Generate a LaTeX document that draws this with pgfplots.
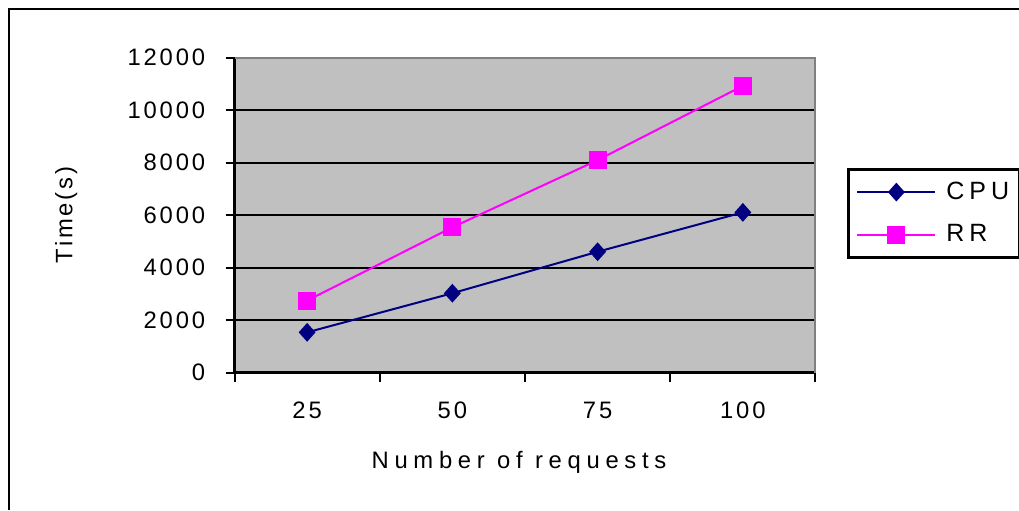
\documentclass[border=0pt]{standalone}
\usepackage{pgfplots}
\pgfplotsset{compat=1.18}
\usepackage{fontspec}
\setmainfont{Liberation Sans}[LetterSpace=12]

\definecolor{plotgray}{HTML}{C0C0C0}
\definecolor{cpublue}{HTML}{000080}
\definecolor{rrpink}{HTML}{FF00FF}

\begin{document}
\fontsize{11.9}{14}\selectfont
% picture units: 1 unit = 1 pixel of the reference (0.5pt), origin bottom left
\begin{tikzpicture}[x=0.5pt, y=0.5pt]
  \path[use as bounding box] (0,0) rectangle (1019,510);
  \draw[line width=1.25pt] (9,0) -- (9,501) -- (1019,501);

  \begin{axis}[
      at={(234.5pt*0.5,137.5pt*0.5)}, anchor=south west,
      scale only axis,
      width=290.5pt, height=157.5pt,
      axis background/.style={fill=plotgray},
      axis x line*=bottom, axis y line*=left,
      axis line style={black, line width=1.25pt},
      xmin=0, xmax=4,
      ymin=0, ymax=12000,
      xtick={0,1,2,3,4},
      xticklabels={25,50,75,100},
      x tick label as interval,
      ytick={0,2000,4000,6000,8000,10000,12000},
      scaled y ticks=false,
      /pgf/number format/1000 sep={},
      /pgf/number format/assume math mode=true,
      tick align=outside,
      major tick length=4.5pt,
      tick style={black, line width=1pt},
      ymajorgrids,
      major grid style={black, line width=1pt},
      yticklabel style={xshift=-6pt},
      xticklabel style={yshift=-6pt},
      xlabel={\addfontfeature{LetterSpace=24}Number of requests},
      ylabel={Time(s)},
      xlabel style={yshift=-8pt, xshift=-3pt},
      ylabel style={yshift=17pt},
      legend style={
          at={(1.054,0.649)}, anchor=north west,
          draw=black, line width=1.5pt, fill=white,
          inner xsep=4pt, inner ysep=5pt,
          row sep=9pt,
          nodes={inner sep=1pt, anchor=west,
                 font=\fontsize{12.5}{14}\selectfont\addfontfeature{LetterSpace=20}},
          /tikz/every odd column/.append style={column sep=4pt},
      },
      legend image code/.code={%
          \draw[mark repeat=2, mark phase=2]
              plot coordinates {(0pt,0pt) (19.5pt,0pt) (39pt,0pt)};},
      legend cell align=left,
      clip=false,
  ]
    \addplot[cpublue, line width=1pt, mark=diamond*, mark size=4.5pt,
             mark options={solid, fill=cpublue, xscale=1.05, yscale=0.88}]
      coordinates {(0.5,1530) (1.5,3020) (2.5,4600) (3.5,6100)};
    \addlegendentry{CPU}

    \addplot[rrpink, line width=1pt, mark=square*,
             mark size=4pt, mark options={solid, fill=rrpink}]
      coordinates {(0.5,2740) (1.5,5530) (2.5,8090) (3.5,10920)};
    \addlegendentry{RR}

    \draw[gray, line width=1pt]
      (rel axis cs:0,1) -- (rel axis cs:1,1) -- (rel axis cs:1,0);
  \end{axis}
\end{tikzpicture}
\end{document}
